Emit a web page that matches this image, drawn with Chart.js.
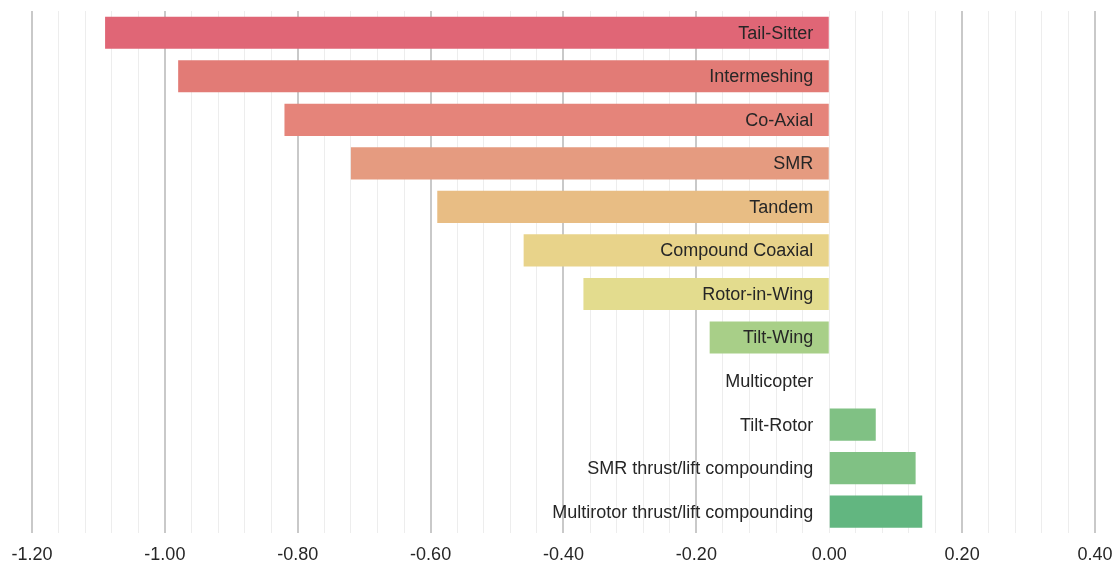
<!DOCTYPE html>
<html>
<head>
<meta charset="utf-8">
<script src="https://cdn.jsdelivr.net/npm/chart.js@4/dist/chart.umd.min.js"></script>
<style>
  html, body { margin: 0; padding: 0; background: #ffffff; }
  #wrap { width: 1119px; height: 565px; }
</style>
</head>
<body>
<div id="wrap"><canvas id="c"></canvas></div>
<script>
// Rotorcraft configurations and their scores
const categories = [
  'Tail-Sitter', 'Intermeshing', 'Co-Axial', 'SMR', 'Tandem',
  'Compound Coaxial', 'Rotor-in-Wing', 'Tilt-Wing', 'Multicopter',
  'Tilt-Rotor', 'SMR thrust/lift compounding', 'Multirotor thrust/lift compounding'
];
const scores = [-1.09, -0.98, -0.82, -0.72, -0.59, -0.46, -0.37, -0.18, 0, 0.07, 0.13, 0.14];
const barColors = [
  '#e06676', '#e27b76', '#e5847a', '#e59b80', '#e8bd84', '#e8d38a',
  '#e3dc8e', '#a8cf88', '#a8cf88', '#80c184', '#80c184', '#62b680'
];
const axisMin = -1.2;
const axisMax = 0.4;
const minorStep = 0.04;

const isMajor = v => Math.abs(Math.round(v * 100)) % 20 === 0;

// Category names written right-aligned just left of the zero line
const categoryLabels = {
  id: 'categoryLabels',
  afterDatasetsDraw(chart) {
    const { ctx, scales: { x, y } } = chart;
    const right = x.getPixelForValue(0) - 16;
    ctx.save();
    ctx.font = '18px "Liberation Sans", Arial, sans-serif';
    ctx.fillStyle = '#262626';
    ctx.textAlign = 'right';
    ctx.textBaseline = 'middle';
    categories.forEach((name, i) => {
      ctx.fillText(name, right, y.getPixelForTick(i) + 1);
    });
    ctx.restore();
  }
};

new Chart(document.getElementById('c'), {
  type: 'bar',
  data: {
    labels: categories,
    datasets: [{
      data: scores,
      backgroundColor: barColors,
      borderWidth: 0,
      barPercentage: 0.82,
      categoryPercentage: 0.9
    }]
  },
  plugins: [categoryLabels],
  options: {
    indexAxis: 'y',
    responsive: true,
    maintainAspectRatio: false,
    animation: false,
    layout: { padding: { left: 32, right: 24, top: 11, bottom: -12 } },
    plugins: { legend: { display: false }, tooltip: { enabled: false } },
    scales: {
      x: {
        min: axisMin,
        max: axisMax,
        border: { display: false },
        afterFit: s => { s.paddingLeft = 0; s.paddingRight = 0; },
        grid: {
          drawTicks: false,
          color: ctx => (isMajor(ctx.tick.value) && Math.abs(ctx.tick.value) > 1e-9) ? '#c9c9c9' : '#ededed',
          lineWidth: ctx => (isMajor(ctx.tick.value) && Math.abs(ctx.tick.value) > 1e-9) ? 2 : 1
        },
        ticks: {
          stepSize: minorStep,
          maxTicksLimit: 100,
          autoSkip: false,
          maxRotation: 0,
          minRotation: 0,
          padding: 11,
          color: '#262626',
          font: { family: '"Liberation Sans", Arial, sans-serif', size: 18 },
          callback: v => isMajor(v) ? v.toFixed(2) : ''
        }
      },
      y: {
        display: false,
        grid: { display: false }
      }
    }
  }
});
</script>
</body>
</html>
